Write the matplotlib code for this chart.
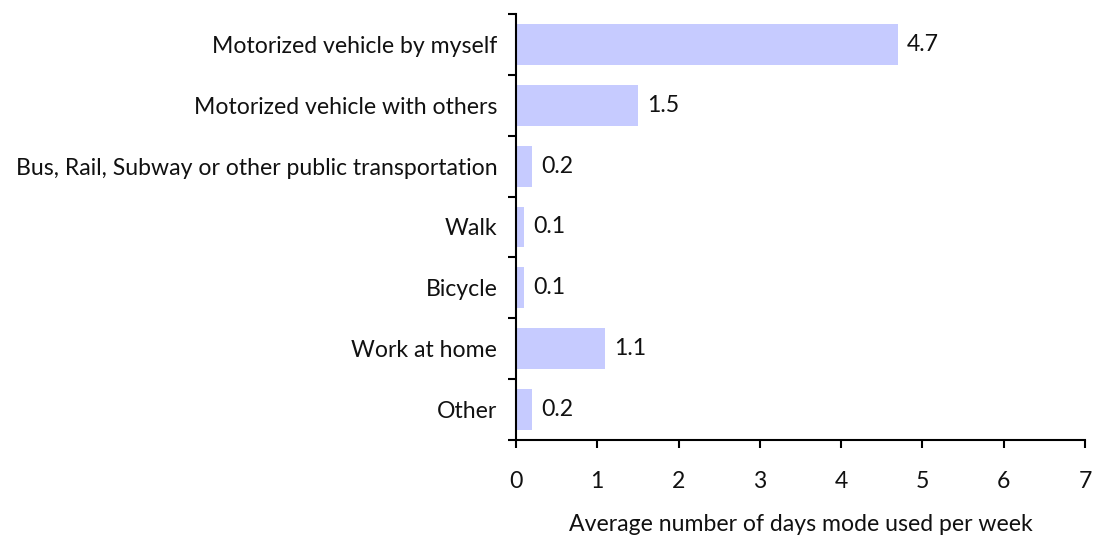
import matplotlib
matplotlib.use("Agg")
import matplotlib.pyplot as plt
import numpy as np

categories = ["Motorized vehicle by myself", "Motorized vehicle with others",
              "Bus, Rail, Subway or other public transportation", "Walk",
              "Bicycle", "Work at home", "Other"]
values = [4.7, 1.5, 0.2, 0.1, 0.1, 1.1, 0.2]
xticks = [0, 1, 2, 3, 4, 5, 6, 7]

plt.rcParams['font.family'] = ['Lato', 'DejaVu Sans']
FS = 16.6

fig = plt.figure(figsize=(10.93, 5.37), dpi=100)
ax = fig.add_axes([0.4721, 0.1806, 0.9927 - 0.4721, 0.974 - 0.1806])

y = np.arange(len(categories))
ax.barh(y, values, height=0.67, color="#C6CBFF")
for yi, v in zip(y, values):
    ax.text(v + 0.11, yi, f"{v:.1f}", va="center", ha="left", fontsize=FS, color="#111111")

ax.set_ylim(len(categories) - 0.5, -0.5)
ax.set_xlim(0, 7)
ax.set_yticks(y)
ax.set_yticklabels(categories, fontsize=FS, color="#111111")
ax.tick_params(axis='y', which='major', length=0, pad=13.5)
ax.set_yticks(np.arange(-0.5, len(categories), 1.0), minor=True)
ax.tick_params(axis='y', which='minor', length=6, width=1.5, direction='out')
ax.set_xticks(xticks)
ax.set_xticklabels([str(t) for t in xticks], fontsize=FS, color="#111111")
ax.tick_params(axis='x', length=6, width=1.5, direction='out', pad=16)
ax.set_xlabel("Average number of days mode used per week", fontsize=FS, labelpad=16, color="#111111")

for s in ["top", "right"]:
    ax.spines[s].set_visible(False)
for s in ["left", "bottom"]:
    ax.spines[s].set_linewidth(1.5)

fig.savefig("out.png", dpi=100)
